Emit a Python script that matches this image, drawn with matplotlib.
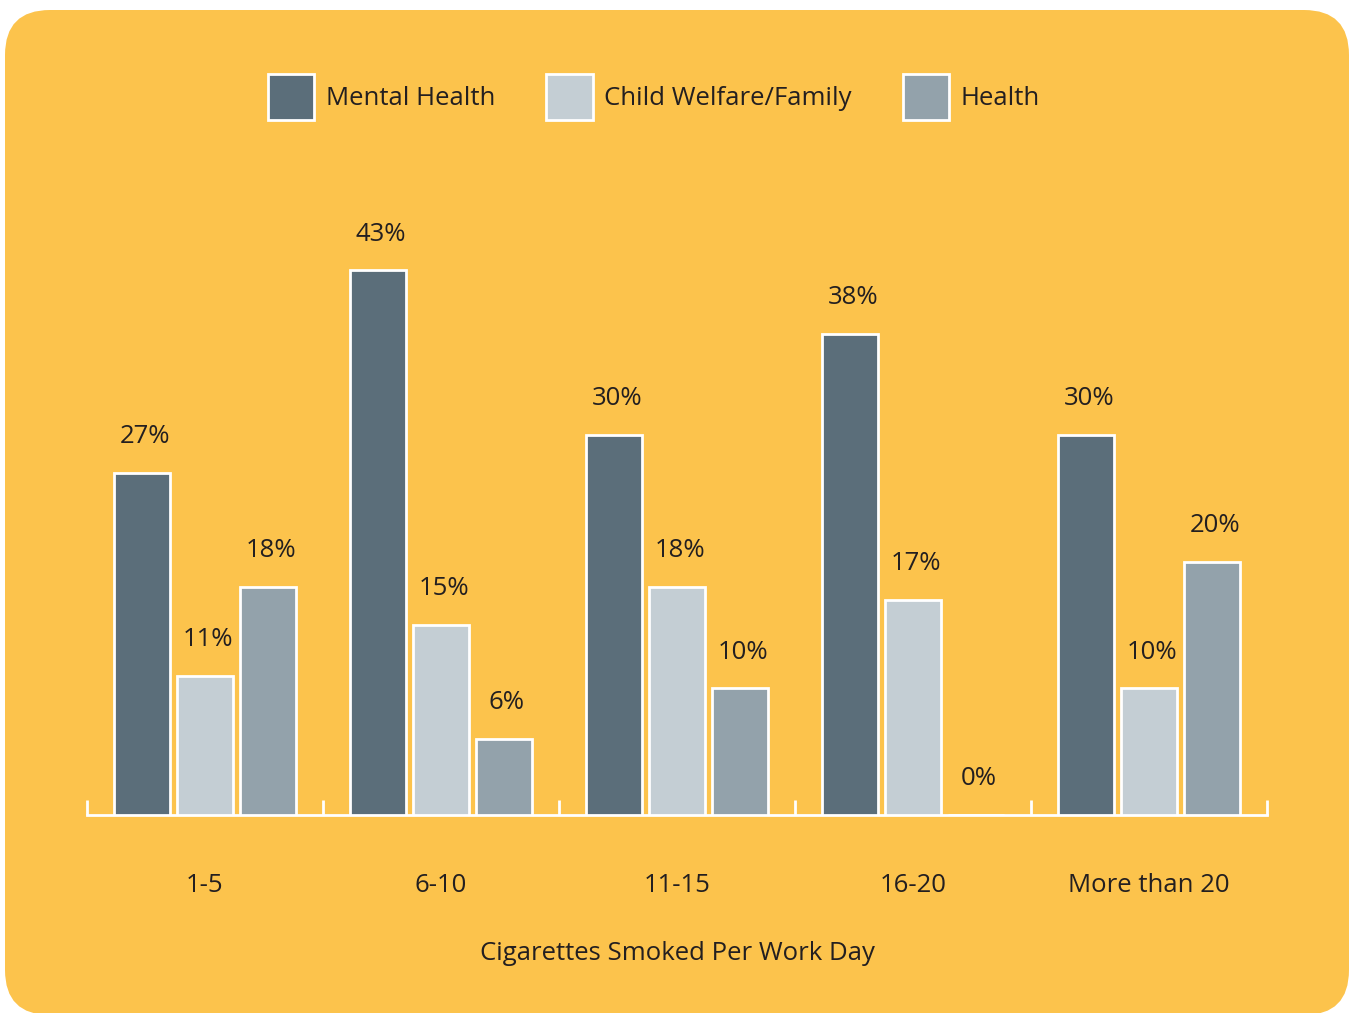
import matplotlib
matplotlib.use('Agg')
import matplotlib.pyplot as plt
from matplotlib.patches import FancyBboxPatch, Patch
import numpy as np

plt.rcParams['font.family'] = ['Open Sans', 'DejaVu Sans']

# Datos
categorias = ["1-5", "6-10", "11-15", "16-20", "More than 20"]
series = ["Mental Health", "Child Welfare/Family", "Health"]
mental_health = [27, 43, 30, 38, 30]
child_welfare = [11, 15, 18, 17, 10]
health = [18, 6, 10, 0, 20]

colores = ["#5B6E7A", "#C4CED4", "#93A2AB"]
fondo = "#FCC34C"
texto = "#231F20"
fs = 18.5

fig = plt.figure(figsize=(13.52, 10.13), dpi=100, facecolor="white")

# Fondo naranja con esquinas redondeadas (en pulgadas para que el radio sea circular)
caja = FancyBboxPatch((0.05, -0.02), 13.44, 10.05,
                      boxstyle="round,pad=0,rounding_size=0.45",
                      transform=fig.dpi_scale_trans, facecolor=fondo,
                      edgecolor="none", zorder=-10)
fig.patches.append(caja)

ax = fig.add_axes([87 / 1352, (1013 - 815) / 1013, 1180 / 1352, 600 / 1013])
ax.set_facecolor("none")
ax.set_zorder(5)

x = np.arange(len(categorias))
ancho = 0.235
desplazamiento = 0.267
for i, (valores, color) in enumerate(zip([mental_health, child_welfare, health], colores)):
    pos = x + (i - 1) * desplazamiento
    ax.bar(pos, valores, width=ancho, color=color, edgecolor="white",
           linewidth=2, zorder=3, label=series[i])
    for xp, v in zip(pos, valores):
        ax.annotate(f"{v}%", (xp, v), xytext=(2, 26), textcoords="offset points",
                    ha="center", va="center", fontsize=fs, color=texto)

ax.set_xlim(-0.5, 4.5)
ax.set_ylim(0, 600 / 12.67)

for lado in ["top", "right", "left"]:
    ax.spines[lado].set_visible(False)
ax.spines["bottom"].set_color("white")
ax.spines["bottom"].set_linewidth(2)
ax.set_yticks([])

# Etiquetas de categoría y marcas entre grupos
ax.set_xticks(x)
ax.set_xticklabels(categorias, fontsize=fs, color=texto)
ax.tick_params(axis="x", which="major", length=0, pad=42)
ax.set_xticks(np.arange(-0.5, 5.0, 1.0), minor=True)
ax.tick_params(axis="x", which="minor", direction="in", length=11, width=2, color="white")

ax.set_xlabel("Cigarettes Smoked Per Work Day", fontsize=fs, color=texto, va="center")
ax.xaxis.set_label_coords(0.5, -(953 - 815) / 600)

handles = [Patch(facecolor=c, edgecolor="white", linewidth=2) for c in colores]
fig.legend(handles, series, loc="center", bbox_to_anchor=(654 / 1352, 1 - 97 / 1013),
           ncol=3, frameon=False, fontsize=fs, handlelength=1.8, handleheight=2.4,
           handletextpad=0.45, columnspacing=2.0, labelcolor=texto)

plt.savefig("out.png", dpi=100, facecolor=fig.get_facecolor())
